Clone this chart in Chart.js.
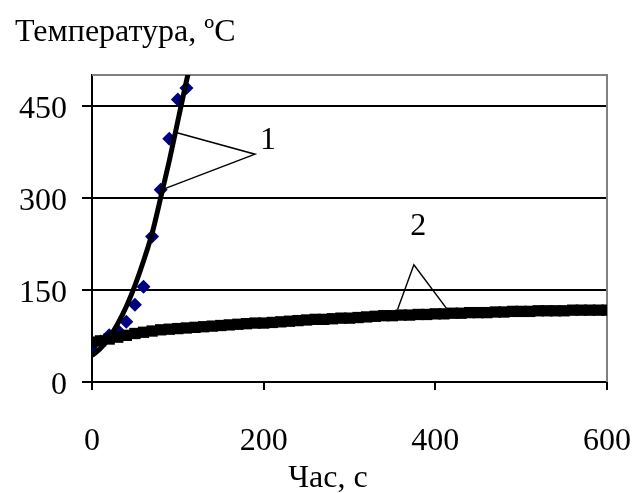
<!DOCTYPE html>
<html lang="uk">
<head>
<meta charset="UTF-8">
<title>Температура</title>
<style>
  body { margin: 0; background: #fff; }
  canvas { display: block; }
</style>
<script src="https://cdn.jsdelivr.net/npm/chart.js"></script>
</head>
<body>
<canvas id="tempChart" width="632" height="493"></canvas>
<script>
// curve 1: measured points (blue diamonds)
const time1 = [0, 10, 20, 30, 40, 50, 60, 70, 80, 90, 100, 110];
const temp1 = [52, 66, 76, 84, 98, 126, 155, 237, 313, 396, 460, 479];

// curve 1: trend line
const timeTrend = [0, 10, 20, 30, 40, 50, 60, 70, 80, 90, 100, 110, 113];
const tempTrend = [43, 55, 72, 95, 123, 157, 197, 242, 300, 360, 425, 490, 508];

// curve 2: black squares
const time2 = [0, 10, 20, 30, 40, 50, 60, 70, 80, 90,
  100, 110, 120, 130, 140, 150, 160, 170, 180, 190,
  200, 210, 220, 230, 240, 250, 260, 270, 280, 290,
  300, 310, 320, 330, 340, 350, 360, 370, 380, 390,
  400, 410, 420, 430, 440, 450, 460, 470, 480, 490,
  500, 510, 520, 530, 540, 550, 560, 570, 580, 590, 600];
const temp2 = [65, 67, 70, 73, 76, 79, 81, 83, 85, 86,
  87, 88, 89, 90, 91, 92, 93, 94, 95, 96,
  96, 97, 98, 99, 100, 101, 102, 102, 103, 104,
  104, 105, 106, 107, 108, 108, 109, 109, 110, 110,
  111, 111, 112, 112, 113, 113, 113, 114, 114, 115,
  115, 115, 116, 116, 116, 116, 117, 117, 117, 117, 117];

// axis ticks
const xTicks = [0, 200, 400, 600];
const yTicks = [0, 150, 300, 450];

const FONT = 'Liberation Serif, Times New Roman, serif';

function pts(xs, ys) {
  return xs.map((v, i) => ({ x: v, y: ys[i] }));
}

// plot frame + callouts "1" and "2" (in data units) + axis titles
const callouts = {
  id: 'callouts',
  beforeDatasetsDraw(chart) {
    const { ctx, chartArea: a } = chart;
    ctx.save();
    ctx.strokeStyle = '#808080';
    ctx.lineWidth = 2;
    ctx.beginPath();
    ctx.moveTo(a.left, a.top);
    ctx.lineTo(a.right, a.top);
    ctx.lineTo(a.right, a.bottom);
    ctx.stroke();
    ctx.restore();
  },
  afterDatasetsDraw(chart) {
    const { ctx, scales: { x, y } } = chart;
    const px = v => x.getPixelForValue(v);
    const py = v => y.getPixelForValue(v);
    ctx.save();
    ctx.strokeStyle = '#000';
    ctx.lineWidth = 1.4;
    ctx.beginPath();
    ctx.moveTo(px(99), py(406));
    ctx.lineTo(px(190), py(371));
    ctx.lineTo(px(81), py(313));
    ctx.stroke();
    ctx.beginPath();
    ctx.moveTo(px(356), py(118));
    ctx.lineTo(px(375), py(191));
    ctx.lineTo(px(413), py(120));
    ctx.stroke();

    ctx.fillStyle = '#000';
    ctx.font = '32px ' + FONT;
    ctx.textAlign = 'center';
    ctx.textBaseline = 'alphabetic';
    ctx.fillText('1', px(205), py(379));
    ctx.fillText('2', px(380), py(240));

    // axis titles
    ctx.textAlign = 'left';
    ctx.fillText('Температура, ºС', 15, 41);
    ctx.textAlign = 'center';
    ctx.fillText('Час, с', 328, 487);
    ctx.restore();
  }
};

new Chart(document.getElementById('tempChart'), {
  type: 'scatter',
  data: {
    datasets: [
      {
        label: 'trend 1',
        type: 'line',
        data: pts(timeTrend, tempTrend),
        borderColor: '#000',
        borderWidth: 5,
        pointRadius: 0,
        cubicInterpolationMode: 'monotone',
        fill: false
      },
      {
        label: '2',
        data: pts(time2, temp2),
        pointStyle: 'rect',
        pointRadius: 8,
        backgroundColor: '#000',
        borderColor: '#000',
        borderWidth: 0
      },
      {
        label: '1',
        data: pts(time1, temp1),
        pointStyle: 'rectRot',
        pointRadius: 7,
        backgroundColor: '#000080',
        borderColor: '#000080',
        borderWidth: 0
      }
    ]
  },
  options: {
    responsive: false,
    animation: false,
    layout: { padding: { top: 75, right: 25, left: 0, bottom: 0 } },
    plugins: {
      legend: { display: false },
      tooltip: { enabled: false }
    },
    scales: {
      x: {
        type: 'linear',
        min: 0,
        max: 600,
        afterBuildTicks: s => { s.ticks = xTicks.map(v => ({ value: v })); },
        afterFit: s => { s.height = 111; s.paddingLeft = 0; s.paddingRight = 0; },
        ticks: { color: '#000', font: { family: FONT, size: 32 }, padding: 32 },
        grid: { drawOnChartArea: false, color: '#000', lineWidth: 2, tickLength: 8 },
        border: { color: '#000', width: 2 }
      },
      y: {
        min: 0,
        max: 500,
        afterBuildTicks: s => { s.ticks = yTicks.map(v => ({ value: v })); },
        afterFit: s => { s.width = 92; s.paddingTop = 0; s.paddingBottom = 0; },
        ticks: { color: '#000', font: { family: FONT, size: 32 }, padding: 15, labelOffset: 4 },
        grid: { color: '#000', lineWidth: 2, tickLength: 10 },
        border: { color: '#000', width: 2 }
      }
    }
  },
  plugins: [callouts]
});
</script>
</body>
</html>
